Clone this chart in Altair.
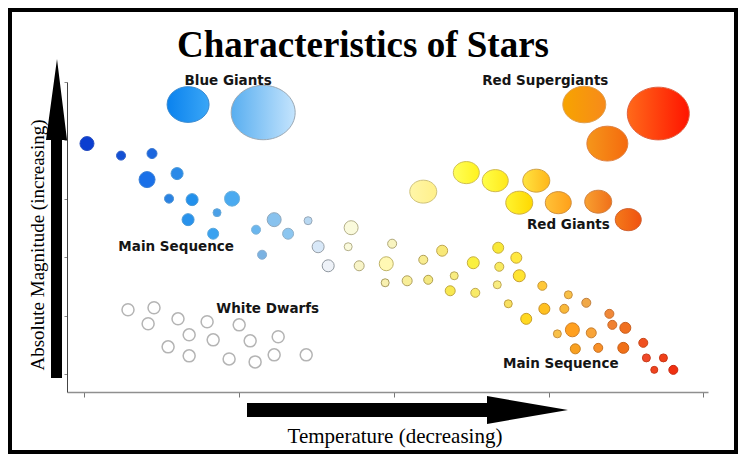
import altair as alt
import pandas as pd

# ---------------- data ----------------
# main-sequence stars: x = temperature axis units, y = magnitude axis units, d = diameter (px)
ms_x = [0.19, 2.39, 4.39, 4.07, 6.01, 5.49, 6.98, 9.56, 8.59, 6.72, 8.34, 11.11, 12.28, 13.18,
        14.47, 11.50, 15.12, 15.77, 17.25, 17.06, 17.77, 19.52, 19.45, 19.90, 20.87, 21.91,
        23.13, 22.23, 23.91, 23.65, 25.14, 25.27, 26.75, 26.82, 26.69, 27.92, 28.11, 27.40,
        29.60, 28.56, 29.73, 31.28, 31.02, 32.44, 30.57, 31.54, 32.76, 33.93, 34.12, 34.96,
        31.73, 33.21, 34.83, 36.12, 36.32, 37.42, 36.83, 38.06]
ms_y = [39.45, 37.39, 37.74, 33.28, 34.31, 30.02, 29.85, 30.02, 27.62, 26.42, 24.01, 24.70,
        26.42, 24.01, 26.24, 20.41, 21.78, 18.52, 25.04, 21.78, 18.52, 18.87, 15.61, 22.30,
        15.95, 19.55, 21.10, 16.12, 16.81, 14.24, 19.04, 13.89, 21.61, 18.35, 15.27, 19.90,
        16.81, 12.01, 15.09, 9.43, 11.15, 13.55, 11.15, 12.18, 6.86, 7.55, 7.03, 10.29, 8.40,
        7.89, 4.29, 4.46, 4.46, 5.32, 2.74, 2.74, 0.69, 0.69]
ms_d = [14, 9, 10, 16, 12, 9, 12, 15, 8, 12, 11, 9, 14, 11, 8, 9, 12, 12, 14, 8, 10, 14, 8, 9,
        10, 9, 11, 9, 8, 10, 12, 9, 11, 9, 8, 11, 12, 8, 9, 11, 11, 8, 9, 9, 8, 14, 10, 9, 9,
        11, 10, 9, 11, 9, 8, 8, 7, 9]
ms_fill = ["#0b3ed0", "#1450d4", "#1c66de", "#1a70e8", "#2a8ae8", "#2a82e2", "#2290ec",
           "#4aaaf0", "#4aa0e8", "#2892ec", "#3aa2f0", "#6ab6ee", "#88c2ee", "#8cc6f0",
           "#b8d8f2", "#7ab2e2", "#d8e8f8", "#eef2f8", "#fafadc", "#fafadc", "#f8f4c8",
           "#fff8b4", "#f8f0b0", "#f8f4c0", "#f8ee98", "#f8ec90", "#f8e878", "#f4e880",
           "#f8ec80", "#f8e850", "#faf040", "#f8ea68", "#f8e838", "#f8ea60", "#f8ec80",
           "#ffe840", "#ffe430", "#f8e060", "#ffc838", "#ffd820", "#ffc020", "#f8c048",
           "#f8b838", "#f0a848", "#f8c048", "#ffa020", "#f8a438", "#f08838", "#f08030",
           "#f07020", "#f8a020", "#f89028", "#f07018", "#f05020", "#f04828", "#f04018",
           "#f04420", "#f03010"]
ms_stroke = ["#2a50c0", "#3060c8", "#3a78d0", "#3a80d8", "#4a98d8", "#4a92d4", "#4a9ad8",
             "#6ab0dc", "#6aaad8", "#4a9ad8", "#5aa8dc", "#80b4d8", "#90a8bc", "#90b0c8",
             "#98a8b8", "#8aaed0", "#98a0a8", "#9098a0", "#b4b08a", "#b4b08a", "#b0a878",
             "#c0b468", "#a89c60", "#b0a878", "#b0a060", "#b0a058", "#c0a850", "#b0a050",
             "#b8a858", "#c0a840", "#c8b040", "#c0a850", "#c8b040", "#c0a848", "#c0a858",
             "#c8a838", "#c8a030", "#c0a040", "#c89838", "#c8a028", "#c89028", "#c89040",
             "#c88838", "#c08040", "#c89040", "#d08028", "#c88030", "#c87030", "#c86828",
             "#c86020", "#c88020", "#c87020", "#c86018", "#c84818", "#c84020", "#c83818",
             "#c83818", "#c82810"]

# white dwarfs
wd_x = [2.84, 4.52, 4.14, 6.07, 7.95, 10.02, 6.79, 8.34, 10.73, 12.54, 5.43, 6.79, 9.37,
        11.05, 12.28, 14.35]
wd_y = [10.98, 11.32, 8.58, 9.43, 8.92, 8.40, 6.69, 5.83, 5.66, 6.35, 4.63, 3.09, 2.57,
        2.06, 3.26, 3.26]
wd_d = [12] * 16

# giants and supergiants (gradient-filled)
giant_x = [6.72, 11.57, 32.31, 37.09, 33.80, 21.91, 24.69, 26.56, 29.21, 28.11, 30.63, 33.21, 35.15]
giant_y = [46.14, 44.77, 46.14, 44.60, 39.45, 31.22, 34.48, 33.10, 33.10, 29.33, 29.33, 29.50, 26.42]
giant_d = [42, 64, 43, 62, 41, 27, 26, 26, 27, 27, 26, 27, 26]
giant_c1 = ["#0a82ee", "#58aef0", "#f7a400", "#ff6a1a", "#f5961a", "#fff6a8", "#ffff5a",
            "#ffff48", "#ffe440", "#fff430", "#ffc238", "#f8a030", "#f47a1a"]
giant_c2 = ["#3aa6f6", "#c4e4fd", "#f78a1a", "#ff1400", "#f56a0e", "#fff08a", "#fff21e",
            "#ffe81a", "#ffb61a", "#ffd800", "#ffa01a", "#f0701a", "#f05210"]
giant_stroke = ["#3a8ad0", "#9aa8b4", "#e0a050", "#e06040", "#e08040", "#cfc27a", "#d0c050",
                "#d0b850", "#d0a040", "#d0b040", "#d09040", "#d08040", "#d06030"]

# region labels
label_text = ["Blue Giants", "Red Supergiants", "Red Giants", "Main Sequence",
              "White Dwarfs", "Main Sequence"]
label_x = [9.31, 29.79, 31.28, 5.95, 11.86, 30.79]
label_y = [50.14, 50.14, 25.56, 21.66, 11.20, 1.77]

x_ticks = [0, 10, 20, 30, 40]
y_ticks = [0, 10, 20, 30, 40, 50]

title_text = "Characteristics of Stars"
x_title = "Temperature (decreasing)"
y_title = "Absolute Magnitude (increasing)"

# ---------------- chart ----------------
xs = alt.Scale(domain=[-1.1, 40.3], nice=False, zero=False)
ys = alt.Scale(domain=[-3.1, 50], nice=False, zero=False)
X = alt.X("x:Q", scale=xs,
          axis=alt.Axis(values=x_ticks, labels=False, title=None, grid=False,
                        domainColor="#8f8f8f", domainWidth=1.6, tickColor="#777777",
                        tickSize=5, tickWidth=1))
Y = alt.Y("y:Q", scale=ys,
          axis=alt.Axis(values=y_ticks, labels=False, title=None, grid=False,
                        domainColor="#444444", domainWidth=1, tickColor="#888888",
                        tickSize=3, tickWidth=1))

one = pd.DataFrame({"k": [0]})
ELL = "M-1,0A1,0.85,0,1,1,1,0A1,0.85,0,1,1,-1,0Z"
UP_ARROW = "M-6,158L5,158L5,-80L10,-80L0,-161L-11,-80L-6,-80Z"
RIGHT_ARROW = "M-153,-7L87,-7L87,-14L168,0L87,14L87,7L-153,7Z"

frame = alt.Chart(one).mark_rect(fillOpacity=0, stroke="black", strokeWidth=4).encode(
    x=alt.value(-57), x2=alt.value(669), y=alt.value(-72), y2=alt.value(370))

up_arrow = alt.Chart(one).mark_point(shape=UP_ARROW, filled=True, fill="black",
                                     opacity=1, size=4).encode(
    x=alt.value(-10), y=alt.value(138))
right_arrow = alt.Chart(one).mark_point(shape=RIGHT_ARROW, filled=True, fill="black",
                                        opacity=1, size=4).encode(
    x=alt.value(333), y=alt.value(328))

title = alt.Chart(pd.DataFrame({"t": [title_text]})).mark_text(
    font="Liberation Serif", fontSize=37, fontWeight="bold", align="center",
    baseline="alphabetic", color="black").encode(
    x=alt.value(296), y=alt.value(-25), text="t:N")

ylab = alt.Chart(pd.DataFrame({"t": [y_title]})).mark_text(
    font="Liberation Serif", fontSize=19, angle=270, align="center",
    baseline="middle", color="black").encode(
    x=alt.value(-29), y=alt.value(163), text="t:N")

xlab = alt.Chart(pd.DataFrame({"t": [x_title]})).mark_text(
    font="Liberation Serif", fontSize=21, align="center",
    baseline="middle", color="black").encode(
    x=alt.value(328), y=alt.value(355), text="t:N")

msdf = pd.DataFrame({"x": ms_x, "y": ms_y, "size": [d * d for d in ms_d],
                     "fill": ms_fill, "stroke": ms_stroke})
ms = alt.Chart(msdf).mark_point(shape="circle", filled=True, opacity=1, strokeWidth=1).encode(
    x=X, y=Y, size=alt.Size("size:Q", scale=None),
    fill=alt.Fill("fill:N", scale=None), stroke=alt.Stroke("stroke:N", scale=None))

wddf = pd.DataFrame({"x": wd_x, "y": wd_y, "size": [d * d for d in wd_d]})
wd = alt.Chart(wddf).mark_point(shape="circle", filled=False, fill="white", stroke="#b4b4b4",
                                strokeWidth=1.5, opacity=1).encode(
    x=X, y=Y, size=alt.Size("size:Q", scale=None))

gdf = pd.DataFrame({"x": giant_x, "y": giant_y, "size": [d * d for d in giant_d],
                    "gid": list(range(len(giant_x)))})
giants = []
for i in range(len(giant_x)):
    grad = alt.LinearGradient(
        gradient="linear", x1=0, y1=0, x2=1, y2=0,
        stops=[alt.GradientStop(color=giant_c1[i], offset=0),
               alt.GradientStop(color=giant_c2[i], offset=1)])
    giants.append(
        alt.Chart(gdf).transform_filter(alt.datum.gid == i).mark_point(
            shape=ELL, filled=True, fill=grad, stroke=giant_stroke[i], strokeWidth=1,
            opacity=1).encode(x=X, y=Y, size=alt.Size("size:Q", scale=None)))

ldf = pd.DataFrame({"x": label_x, "y": label_y, "t": label_text})
labels = alt.Chart(ldf).mark_text(font="DejaVu Sans", fontSize=13.5, fontWeight="bold",
                                  align="center", baseline="middle", color="#151515").encode(
    x=X, y=Y, text="t:N")

chart = alt.layer(frame, wd, ms, *giants, labels, up_arrow, right_arrow, title, ylab, xlab).properties(
    width=641, height=310,
    autosize=alt.AutoSizeParams(type="none"),
    padding={"left": 59, "top": 74, "right": 30, "bottom": 62},
    background="white",
).configure_view(strokeWidth=0)

chart.save("out.html", embed_options={"renderer": "svg", "actions": False})
